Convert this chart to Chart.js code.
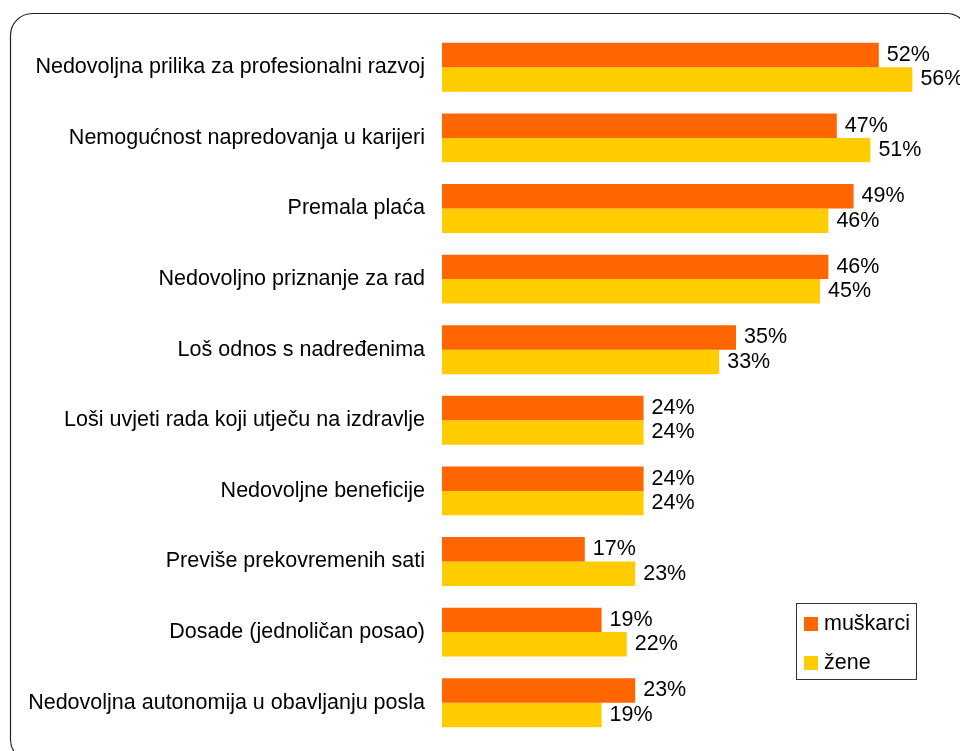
<!DOCTYPE html>
<html>
<head>
<meta charset="utf-8">
<script src="https://cdn.jsdelivr.net/npm/chart.js@4/dist/chart.umd.min.js"></script>
<style>
  html, body { margin: 0; padding: 0; background: #fff; }
  #wrap { position: relative; width: 960px; height: 751px; }
</style>
</head>
<body>
<div id="wrap"><canvas id="bar-chart" width="960" height="751"></canvas></div>
<script>
// Data
const categories = [
  "Nedovoljna prilika za profesionalni razvoj",
  "Nemogućnost napredovanja u karijeri",
  "Premala plaća",
  "Nedovoljno priznanje za rad",
  "Loš odnos s nadređenima",
  "Loši uvjeti rada koji utječu na izdravlje",
  "Nedovoljne beneficije",
  "Previše prekovremenih sati",
  "Dosade (jednoličan posao)",
  "Nedovoljna autonomija u obavljanju posla",
];
const muskarci = [52, 47, 49, 46, 35, 24, 24, 17, 19, 23];
const zene = [56, 51, 46, 45, 33, 24, 24, 23, 22, 19];

const FONT = "'Liberation Sans', Arial, sans-serif";
const FSIZE = 21.5;

// frame with rounded corners
const framePlugin = {
  id: "frame",
  beforeDraw(chart) {
    const c = chart.ctx;
    c.save();
    c.strokeStyle = "#222";
    c.lineWidth = 1.2;
    c.beginPath();
    c.roundRect(10.5, 13.5, 958, 748, 22);
    c.stroke();
    c.restore();
  },
};

// percentage labels at bar ends
const valueLabels = {
  id: "valueLabels",
  afterDatasetsDraw(chart) {
    const c = chart.ctx;
    c.save();
    c.font = FSIZE + "px " + FONT;
    c.fillStyle = "#000";
    c.textAlign = "left";
    c.textBaseline = "middle";
    chart.data.datasets.forEach((ds, i) => {
      chart.getDatasetMeta(i).data.forEach((bar, j) => {
        c.fillText(ds.data[j] + "%", bar.x + 8, bar.y);
      });
    });
    c.restore();
  },
};

// boxed legend inside the chart, bottom right
const boxLegend = {
  id: "boxLegend",
  afterDraw(chart) {
    const c = chart.ctx;
    c.save();
    c.strokeStyle = "#333";
    c.lineWidth = 1;
    c.strokeRect(796.5, 603.5, 120, 76);
    c.font = FSIZE + "px " + FONT;
    c.textBaseline = "alphabetic";
    c.textAlign = "left";
    chart.data.datasets.forEach((ds, i) => {
      const y = 617 + i * 39;
      c.fillStyle = ds.backgroundColor;
      c.fillRect(804, y, 14, 14);
      c.fillStyle = "#000";
      c.fillText(ds.label, 824, y + 13);
    });
    c.restore();
  },
};

const ctx = document.getElementById("bar-chart");

new Chart(ctx, {
  type: "bar",
  data: {
    labels: categories,
    datasets: [
      {
        label: "muškarci",
        data: muskarci,
        backgroundColor: "#FF6600",
        categoryPercentage: 0.693,
        barPercentage: 1,
      },
      {
        label: "žene",
        data: zene,
        backgroundColor: "#FFCC00",
        categoryPercentage: 0.693,
        barPercentage: 1,
      },
    ],
  },
  options: {
    indexAxis: "y",
    responsive: false,
    animation: false,
    layout: {
      padding: { left: 0, right: 14, top: 32, bottom: 13 },
    },
    plugins: {
      legend: { display: false },
      tooltip: { enabled: false },
    },
    scales: {
      x: {
        display: false,
        min: 0,
        max: 60,
      },
      y: {
        grid: { display: false, drawTicks: false },
        border: { display: false },
        ticks: {
          color: "#000",
          padding: 17,
          font: { family: FONT, size: FSIZE },
        },
        afterFit(scale) {
          scale.width = 442;
          scale.paddingTop = 0;
          scale.paddingBottom = 0;
        },
      },
    },
  },
  plugins: [framePlugin, valueLabels, boxLegend],
});
</script>
</body>
</html>
